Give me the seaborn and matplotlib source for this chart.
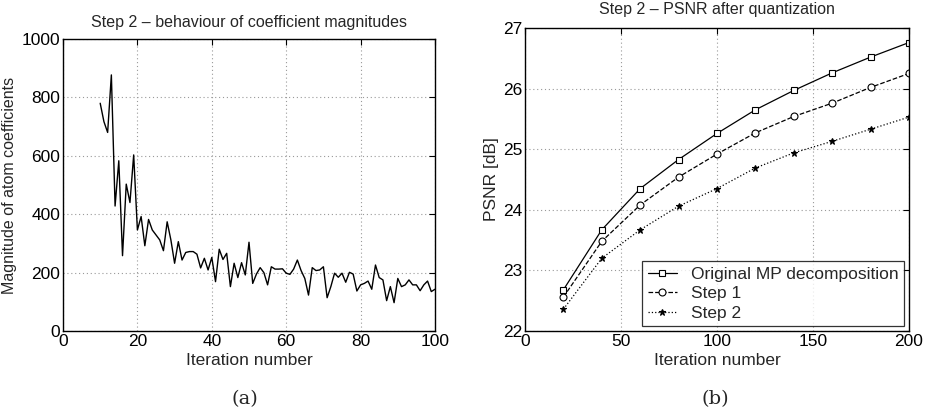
import numpy as np
import pandas as pd
import matplotlib
matplotlib.use("Agg")
import matplotlib.pyplot as plt
import seaborn as sns

# ---- data (a) ----
iter_a = list(range(10, 101))
coef_mag = [780, 717, 680, 877, 428, 583, 258, 503, 440, 603,
            346, 392, 292, 382, 346, 329, 312, 275, 374, 312,
            232, 306, 243, 269, 272, 272, 263, 216, 249, 209,
            252, 169, 280, 245, 266, 152, 232, 183, 234, 192,
            304, 163, 195, 217, 200, 158, 220, 212, 212, 213,
            198, 194, 212, 243, 207, 180, 123, 217, 207, 209,
            220, 114, 152, 198, 184, 198, 167, 201, 195, 137,
            158, 163, 171, 143, 226, 183, 175, 104, 152, 97,
            180, 152, 158, 175, 158, 158, 138, 158, 171, 135,
            143]

# ---- data (b) ----
iter_b = [20, 40, 60, 80, 100, 120, 140, 160, 180, 200]
psnr_orig = [22.68, 23.67, 24.35, 24.83, 25.26, 25.65, 25.97, 26.26, 26.52, 26.76]
psnr_step1 = [22.56, 23.48, 24.08, 24.54, 24.92, 25.27, 25.54, 25.76, 26.02, 26.25]
psnr_step2 = [22.36, 23.20, 23.67, 24.06, 24.35, 24.69, 24.94, 25.13, 25.33, 25.53]
labels_b = ["Original MP decomposition", "Step 1", "Step 2"]

sns.set_theme(style="white")
plt.rcParams['font.family'] = ['Liberation Sans', 'DejaVu Sans']

fig = plt.figure(figsize=(9.25, 4.16), dpi=100)
W, H = 925, 416
ax1 = fig.add_axes([63 / W, 1 - 331 / H, (435 - 63) / W, (331 - 39) / H])
ax2 = fig.add_axes([525 / W, 1 - 331 / H, (909 - 525) / W, (331 - 28) / H])

def style_ax(ax):
    for s in ax.spines.values():
        s.set_color('black')
        s.set_linewidth(1.0)
    ax.tick_params(direction='in', length=4, width=0.8, labelsize=12.5,
                   colors='black', top=True, right=True, pad=2)
    ax.grid(True, linestyle=(0, (1, 2.5)), color='#999999', linewidth=0.8)
    ax.set_axisbelow(True)

df_a = pd.DataFrame({"it": iter_a, "mag": coef_mag})
sns.lineplot(data=df_a, x="it", y="mag", ax=ax1, color='black', linewidth=1.0)
ax1.set_xlim(0, 100)
ax1.set_ylim(0, 1000)
ax1.set_xticks([0, 20, 40, 60, 80, 100])
ax1.set_yticks([0, 200, 400, 600, 800, 1000])
style_ax(ax1)
ax1.set_xlabel("Iteration number", fontsize=12.5, labelpad=3)
ax1.set_ylabel("Magnitude of atom coefficients", fontsize=11.5, labelpad=3)
ax1.set_title("Step 2 \u2013 behaviour of coefficient magnitudes", fontsize=11.5, pad=9)

series = [psnr_orig, psnr_step1, psnr_step2]
styles = [dict(marker='s', linestyle='-', markersize=5, markerfacecolor='white'),
          dict(marker='o', linestyle='--', markersize=5, markerfacecolor='white', dashes=(5, 3)),
          dict(marker='*', linestyle=':', markersize=5, markerfacecolor='black')]
for vals, lab, st in zip(series, labels_b, styles):
    d = pd.DataFrame({"it": iter_b, "psnr": vals})
    sns.lineplot(data=d, x="it", y="psnr", ax=ax2, color='black', linewidth=0.9,
                 markeredgecolor='black', markeredgewidth=0.8, label=lab, **st)
ax2.set_xlim(0, 200)
ax2.set_ylim(22, 27)
ax2.set_xticks([0, 50, 100, 150, 200])
ax2.set_yticks([22, 23, 24, 25, 26, 27])
style_ax(ax2)
ax2.set_xlabel("Iteration number", fontsize=12.5, labelpad=3)
ax2.set_ylabel("PSNR [dB]", fontsize=12.5, labelpad=3)
ax2.set_title("Step 2 \u2013 PSNR after quantization", fontsize=11.5, pad=10)
leg = ax2.legend(loc='lower right', fontsize=12.5, frameon=True, fancybox=False,
                 edgecolor='black', handlelength=1.7, borderaxespad=0.3,
                 labelspacing=0.25, borderpad=0.3)
leg.get_frame().set_linewidth(0.9)

fig.text(245 / W, 1 - 399 / H, "(a)", ha='center', va='center',
         fontsize=14, family='DejaVu Serif')
fig.text(715 / W, 1 - 399 / H, "(b)", ha='center', va='center',
         fontsize=14, family='DejaVu Serif')

fig.savefig("out.png", dpi=100)
